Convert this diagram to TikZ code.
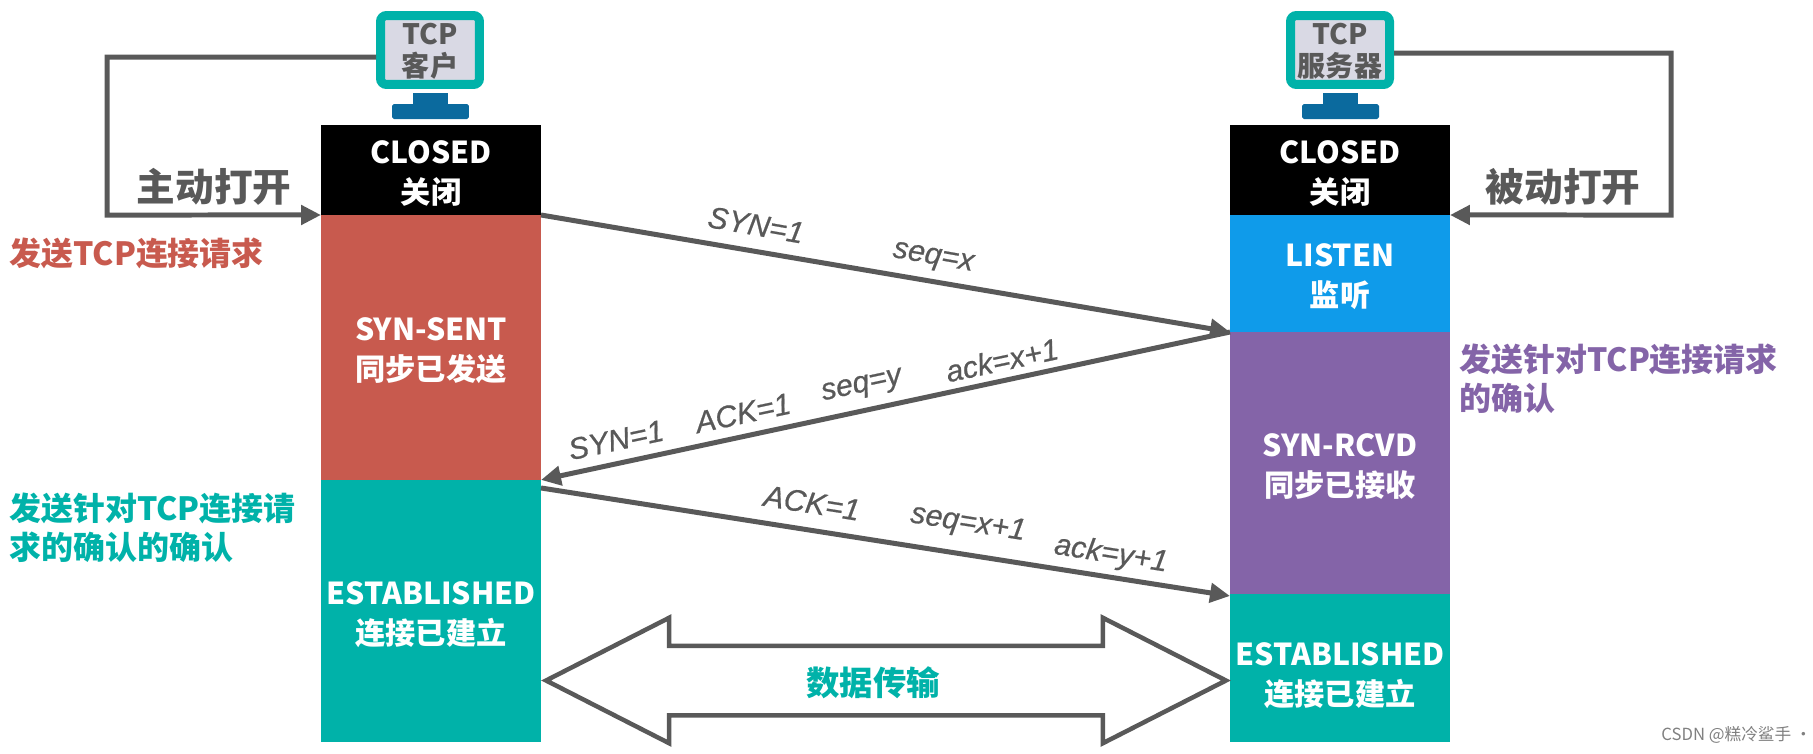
\documentclass[tikz,border=0pt]{standalone}
\usepackage{fontspec}
\usepackage{xcolor}
\usetikzlibrary{arrows.meta,positioning,shapes.arrows,calc}
\setmainfont{Noto Sans CJK SC}
\newfontfamily\msgfont[ItalicFeatures={FakeBold=0.6}]{Liberation Sans}
\definecolor{linegray}{HTML}{595959}
\definecolor{closedblack}{HTML}{000000}
\definecolor{sentred}{HTML}{C85A4E}
\definecolor{estteal}{HTML}{00B2A9}
\definecolor{listenblue}{HTML}{0F9BEA}
\definecolor{rcvdpurple}{HTML}{8464A8}
\definecolor{pcblue}{HTML}{0B6A9E}
\definecolor{pcscreen}{HTML}{D9D9E4}

\begin{document}
\begin{tikzpicture}[
    x=0.02cm, y=-0.02cm,
    statebox/.style={rectangle, minimum width=4.4cm, inner sep=0pt, outer sep=0pt},
    statetext/.style={yshift=-0.07cm, text=white, inner sep=0pt, align=center, font=\fontsize{17.2}{22.7}\selectfont\bfseries},
    pcscr/.style={rectangle, draw=estteal, line width=0.18cm, fill=pcscreen, rounded corners=0.12cm, minimum width=1.98cm, minimum height=1.38cm, inner sep=0pt},
    pctext/.style={yshift=-0.02cm, inner sep=0pt, align=center, text=linegray, font=\fontsize{16}{18.2}\selectfont\bfseries},
    pcstem/.style={rectangle, fill=pcblue, minimum width=0.7cm, minimum height=0.26cm, inner sep=0pt},
    pcbase/.style={rectangle, fill=pcblue, rounded corners=1pt, minimum width=1.54cm, minimum height=0.3cm, inner sep=0pt},
    link/.style={draw=linegray, line width=0.1cm, -{Triangle[length=0.4cm,width=0.38cm]}},
    msg/.style={text=linegray, inner sep=0pt, font=\msgfont\itshape\fontsize{17.2}{20}\selectfont},
    openlabel/.style={text=linegray, inner sep=0pt, font=\fontsize{22}{25}\selectfont\bfseries},
    sidenote/.style={inner sep=0pt, anchor=west, align=left, font=\fontsize{18.2}{22.2}\selectfont\bfseries}
]
    \useasboundingbox (0,0) rectangle (1813,754);

    \node[pcscr] (clientpc) at (430,50) {};
    \node[pctext] (clienttext) at (clientpc) {TCP\\客户};
    \node[pcstem] (clientstem) at (430.5,99) {};
    \node[pcbase] (clientbase) at (430.5,111.5) {};
    \node[pcscr] (serverpc) at (1340,50) {};
    \node[pctext] (servertext) at (serverpc) {TCP\\服务器};
    \node[pcstem] (serverstem) at (1340.5,99) {};
    \node[pcbase] (serverbase) at (1340.5,111.5) {};

    \node[statebox, fill=closedblack, minimum height=1.8cm] (closedA) at (431,170) {};
    \node[statebox, fill=sentred, minimum height=5.3cm] (sent) at (431,347.5) {};
    \node[statebox, fill=estteal, minimum height=5.24cm] (estA) at (431,611) {};

    \node[statebox, fill=closedblack, minimum height=1.8cm] (closedB) at (1340,170) {};
    \node[statebox, fill=listenblue, minimum height=2.34cm] (listen) at (1340,273.5) {};
    \node[statebox, fill=rcvdpurple, minimum height=5.24cm] (rcvd) at (1340,463) {};
    \node[statebox, fill=estteal, minimum height=2.96cm] (estB) at (1340,668) {};

    \node[statetext] (closedAtext) at (closedA) {CLOSED\\关闭};
    \node[statetext] (senttext) at (sent) {SYN-SENT\\同步已发送};
    \node[statetext] (estAtext) at (estA) {ESTABLISHED\\连接已建立};
    \node[statetext] (closedBtext) at (closedB) {CLOSED\\关闭};
    \node[statetext] (listentext) at (listen) {LISTEN\\监听};
    \node[statetext] (rcvdtext) at (rcvd) {SYN-RCVD\\同步已接收};
    \node[statetext, yshift=-0.08cm] (estBtext) at (estB) {ESTABLISHED\\连接已建立};

    \coordinate (turnA) at (107,215);
    \coordinate (turnB) at (1671,215);
    \draw[link] ([yshift=-0.14cm]clientpc.west) -| (turnA) -- (closedA.south west);
    \draw[link] ([yshift=-0.06cm]serverpc.east) -| (turnB) -- (closedB.south east);
    \draw[link] (closedA.south east) -- (listen.south west);
    \draw[link] (listen.south west) -- (sent.south east);
    \draw[link] ([yshift=-0.16cm]sent.south east) -- ([yshift=-0.04cm]rcvd.south west);

    \node[double arrow, draw=linegray, line width=0.09cm, fill=white, minimum height=13.6cm, minimum width=2.42cm, text height=1.3cm, text depth=0pt, double arrow head extend=0.56cm, double arrow tip angle=54, inner sep=0pt, anchor=center] (datapath) at (886,680.5) {};
    \node[text=estteal, inner sep=0pt, font=\fontsize{19}{22}\selectfont\bfseries] (datalabel) at (873,683) {数据传输};

    \node[openlabel] (activeopen) at (214,187) {主动打开};
    \node[openlabel] (passiveopen) at (1563,187) {被动打开};

    \node[sidenote, text=sentred] (noteA) at (9,253) {发送TCP连接请求};
    \node[sidenote, text=estteal] (noteB) at (9,528) {发送针对TCP连接请\\求的确认的确认};
    \node[sidenote, text=rcvdpurple] (noteC) at (1459,379) {发送针对TCP连接请求\\的确认};

    \node[msg, rotate=-10] (synA) at (756,225) {SYN=1};
    \node[msg, rotate=-10] (seqA) at (933,259) {seq=x};
    \node[msg, rotate=12] (synB) at (616,440) {SYN=1};
    \node[msg, rotate=12] (ackB) at (743,413) {ACK=1};
    \node[msg, rotate=12] (seqB) at (862,387) {seq=y};
    \node[msg, rotate=12] (numB) at (1002,360) {ack=x+1};
    \node[msg, rotate=-9] (ackC) at (812,503) {ACK=1};
    \node[msg, rotate=-9] (seqC) at (968,524) {seq=x+1};
    \node[msg, rotate=-9] (numC) at (1111,555) {ack=y+1};

    \node[text=gray, inner sep=0pt, anchor=west, font=\fontsize{9.5}{11}\selectfont] (mark) at (1661,735) {CSDN @糕冷鲨手 ·};
\end{tikzpicture}
\end{document}
